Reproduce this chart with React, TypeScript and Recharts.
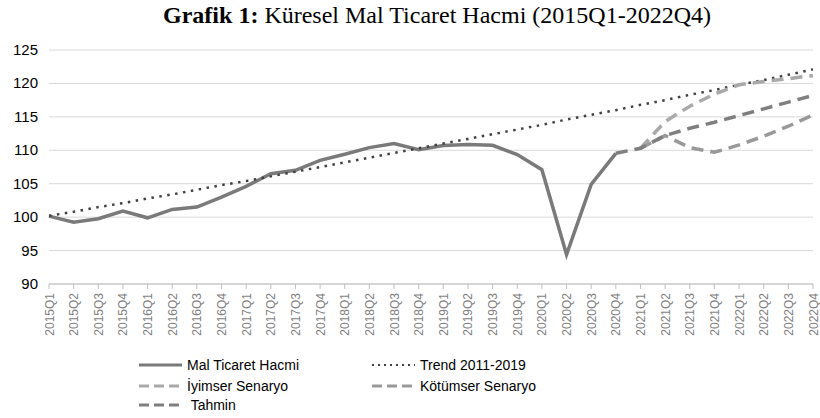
import { LineChart, Line, XAxis, YAxis, CartesianGrid } from "recharts";

const categories = [
  "2015Q1", "2015Q2", "2015Q3", "2015Q4",
  "2016Q1", "2016Q2", "2016Q3", "2016Q4",
  "2017Q1", "2017Q2", "2017Q3", "2017Q4",
  "2018Q1", "2018Q2", "2018Q3", "2018Q4",
  "2019Q1", "2019Q2", "2019Q3", "2019Q4",
  "2020Q1", "2020Q2", "2020Q3", "2020Q4",
  "2021Q1", "2021Q2", "2021Q3", "2021Q4",
  "2022Q1", "2022Q2", "2022Q3", "2022Q4",
];

const malTicaret = [
  100.15, 99.25, 99.76, 100.9, 99.9, 101.15, 101.5, 103.0,
  104.6, 106.5, 107.0, 108.5, 109.4, 110.4, 111.0, 110.1,
  110.7, 110.85, 110.75, 109.35, 107.1, 94.4, 104.9, 109.55,
  null, null, null, null, null, null, null, null,
];

const trend = [
  100.2, 100.8, 101.5, 102.1, 102.8, 103.4, 104.1, 104.8,
  105.4, 106.1, 106.8, 107.5, 108.2, 108.9, 109.6, 110.3,
  111.0, 111.7, 112.4, 113.1, 113.8, 114.6, 115.3, 116.0,
  116.8, 117.5, 118.3, 119.0, 119.8, 120.5, 121.3, 122.1,
];

const iyimser = [
  null, null, null, null, null, null, null, null,
  null, null, null, null, null, null, null, null,
  null, null, null, null, null, null, null, null,
  110.3, 114.3, 116.6, 118.4, 119.8, 120.3, 120.7, 121.2,
];

const kotumser = [
  null, null, null, null, null, null, null, null,
  null, null, null, null, null, null, null, null,
  null, null, null, null, null, null, null, null,
  110.3, 112.2, 110.4, 109.7, 110.8, 112.1, 113.6, 115.3,
];

const tahmin = [
  null, null, null, null, null, null, null, null,
  null, null, null, null, null, null, null, null,
  null, null, null, null, null, null, null, 109.55,
  110.3, 112.2, 113.3, 114.2, 115.2, 116.2, 117.2, 118.2,
];

const yTicks = [90, 95, 100, 105, 110, 115, 120, 125];

const data = categories.map((period, i) => ({
  period,
  mal: malTicaret[i],
  trend: trend[i],
  iyimser: iyimser[i],
  kotumser: kotumser[i],
  tahmin: tahmin[i],
}));

const FONT = "'Liberation Sans', Arial, sans-serif";

const XTick = ({ x, y, payload }: any) => (
  <text
    x={0}
    y={0}
    transform={`translate(${x + 4.5},${y + 2}) rotate(-90)`}
    textAnchor="end"
    fontSize={12}
    fill="#7f7f7f"
    fontFamily={FONT}
  >
    {payload.value}
  </text>
);

const YTick = ({ y, payload }: any) => (
  <text x={38} y={y + 5} textAnchor="end" fontSize={15} fill="#000" fontFamily={FONT}>
    {payload.value}
  </text>
);

const legendItems = [
  { label: "Mal Ticaret Hacmi", color: "#7a7a7a", dash: "", width: 3, x: 139, y: 365 },
  { label: "Trend 2011-2019", color: "#404040", dash: "2 4", width: 2, x: 372, y: 365 },
  { label: "İyimser Senaryo", color: "#a9a9a9", dash: "10 5", width: 3, x: 139, y: 386 },
  { label: "Kötümser Senaryo", color: "#999999", dash: "10 5", width: 3, x: 372, y: 386 },
  { label: " Tahmin", color: "#7f7f7f", dash: "10 5", width: 3, x: 139, y: 405 },
];

export default function App() {
  return (
    <div style={{ position: "absolute", left: 0, top: 0, width: 820, height: 418, background: "#fff" }}>
      <div
        style={{
          position: "absolute",
          left: 0,
          top: 2,
          width: 874,
          textAlign: "center",
          fontFamily: "'Liberation Serif', 'Times New Roman', serif",
          fontSize: 24,
          color: "#000",
          whiteSpace: "pre",
        }}
      >
        <b>Grafik 1:</b> Küresel Mal Ticaret Hacmi (2015Q1-2022Q4)
      </div>
      <LineChart
        width={820}
        height={418}
        data={data}
        margin={{ top: 50, right: 7, left: 9, bottom: 83 }}
      >
        <CartesianGrid vertical={false} stroke="#d9d9d9" />
        <XAxis
          dataKey="period"
          interval={0}
          height={51}
          tick={<XTick />}
          tickSize={5}
          tickMargin={2}
          axisLine={{ stroke: "#bfbfbf" }}
          tickLine={{ stroke: "#bfbfbf" }}
        />
        <YAxis
          width={40}
          domain={[90, 125]}
          ticks={yTicks}
          axisLine={false}
          tickLine={false}
          tick={<YTick />}
        />
        <Line dataKey="mal" stroke="#7a7a7a" strokeWidth={3.5} dot={false} isAnimationActive={false} />
        <Line
          dataKey="trend"
          stroke="#404040"
          strokeWidth={2.5}
          strokeDasharray="2.5 5.5"
          dot={false}
          isAnimationActive={false}
        />
        <Line
          dataKey="iyimser"
          stroke="#a9a9a9"
          strokeWidth={3.5}
          strokeDasharray="12 7"
          dot={false}
          isAnimationActive={false}
        />
        <Line
          dataKey="kotumser"
          stroke="#999999"
          strokeWidth={3.5}
          strokeDasharray="12 7"
          dot={false}
          isAnimationActive={false}
        />
        <Line
          dataKey="tahmin"
          stroke="#7f7f7f"
          strokeWidth={3.5}
          strokeDasharray="12 7"
          dot={false}
          isAnimationActive={false}
        />
      </LineChart>
      {legendItems.map((item) => (
        <div key={item.label}>
          <svg style={{ position: "absolute", left: item.x, top: item.y - 4 }} width={44} height={8}>
            <line
              x1={0}
              y1={4}
              x2={43}
              y2={4}
              stroke={item.color}
              strokeWidth={item.width}
              strokeDasharray={item.dash || undefined}
            />
          </svg>
          <div
            style={{
              position: "absolute",
              left: item.x + 48,
              top: item.y - 9,
              fontFamily: FONT,
              fontSize: 14,
              lineHeight: "18px",
              color: "#000",
              whiteSpace: "pre",
            }}
          >
            {item.label}
          </div>
        </div>
      ))}
    </div>
  );
}
